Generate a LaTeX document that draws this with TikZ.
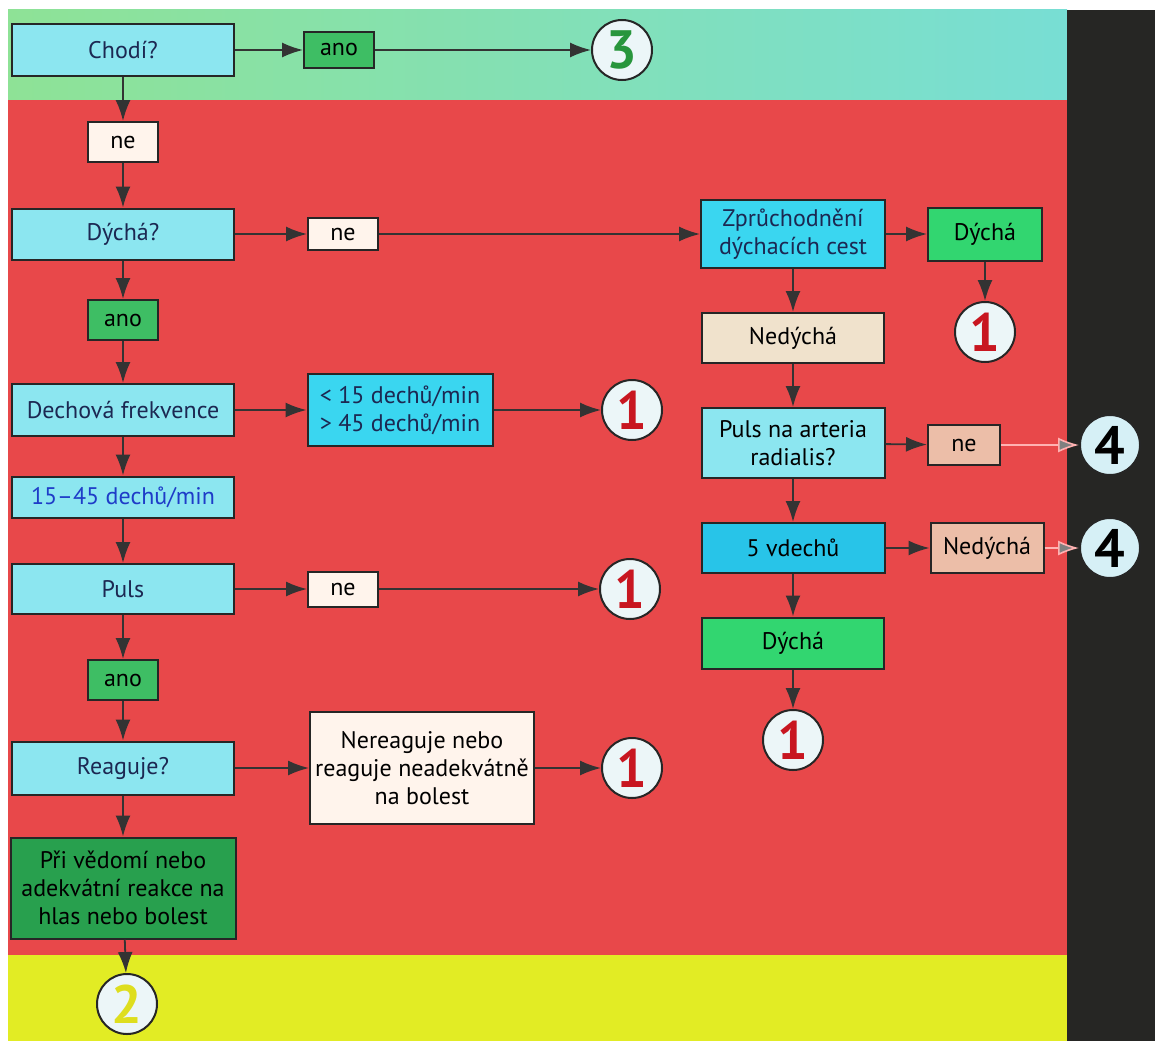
\documentclass[tikz,border=0pt]{standalone}
\usepackage{fontspec}
\setmainfont{PT Sans}
\usetikzlibrary{arrows.meta}

\definecolor{bandred}{RGB}{232,72,74}
\definecolor{bandyellow}{RGB}{226,236,36}
\definecolor{darkside}{RGB}{38,38,36}
\definecolor{qcyan}{RGB}{140,230,240}
\definecolor{scyan}{RGB}{58,214,240}
\definecolor{dcyan}{RGB}{40,196,232}
\definecolor{anogreen}{RGB}{62,190,100}
\definecolor{brightgreen}{RGB}{50,214,112}
\definecolor{darkgreen}{RGB}{40,160,78}
\definecolor{cream}{RGB}{255,244,236}
\definecolor{peach}{RGB}{236,190,168}
\definecolor{beige}{RGB}{240,226,204}
\definecolor{navy}{RGB}{28,40,82}
\definecolor{normblue}{RGB}{30,60,200}
\definecolor{circfill}{RGB}{236,246,248}
\definecolor{fourfill}{RGB}{214,240,246}
\definecolor{digred}{RGB}{200,22,32}
\definecolor{diggreen}{RGB}{40,150,60}
\definecolor{digyellow}{RGB}{222,222,30}

\tikzset{
  box/.style={draw=black!85, line width=2pt, inner sep=2pt, font=\fontsize{24}{28}\selectfont, align=center},
  qbox/.style={box, fill=qcyan, text=navy, minimum width=222pt, minimum height=52pt},
  lbl/.style={box, minimum width=70pt, minimum height=38pt},
  endpt/.style={circle, draw=black!85, line width=2pt, fill=circfill, minimum size=60pt, inner sep=0pt, font=\fontsize{54}{54}\bfseries},
  conn/.style={line width=1.8pt, draw=black!80, -{Latex[length=21pt,width=15pt]}},
  exitconn/.style={line width=1.6pt, draw=red!30!white, -{Latex[length=21pt,width=15pt,fill=gray]}}
}

\begin{document}
\begin{tikzpicture}[x=1pt,y=-1pt]
\useasboundingbox (0,0) rectangle (1155,1041);
% bands
\shade[left color={rgb,255:red,142;green,226;blue,150}, right color={rgb,255:red,120;green,222;blue,212}] (8,10) rectangle (1067,100);
\fill[bandred] (8,100) rectangle (1067,955);
\fill[bandyellow] (8,955) rectangle (1067,1041);
\fill[darkside] (1067,10) rectangle (1155,1041);

% left column
\node[qbox] (chodi) at (123,50) {Chodí?};
\node[lbl, fill=anogreen, minimum height=35pt] (ano1) at (339,50) {ano};
\node[endpt, text=diggreen] (three) at (622,50) {3};
\node[lbl, fill=cream, minimum height=40pt] (ne1) at (123,142) {ne};
\node[qbox, minimum height=51pt] (dycha) at (123,234) {Dýchá?};
\node[lbl, fill=cream, minimum height=32pt] (ne2) at (343,234) {ne};
\node[lbl, fill=anogreen, minimum height=40pt] (ano2) at (123,320) {ano};
\node[qbox] (dech) at (123,410) {Dechová frekvence};
\node[box, fill=scyan, text=navy, minimum width=185pt, minimum height=72pt] (lim) at (400,410) {< 15 dechů/min\\> 45 dechů/min};
\node[endpt, text=digred] (one2) at (632,410) {1};
\node[qbox, minimum height=41pt, text=normblue] (norm) at (123,497) {15–45 dechů/min};
\node[qbox, minimum height=50pt] (puls) at (123,589) {Puls};
\node[lbl, fill=cream, minimum height=35pt] (ne4) at (343,589) {ne};
\node[endpt, text=digred] (one3) at (630,589) {1};
\node[lbl, fill=anogreen, minimum height=40pt] (ano3) at (123,680) {ano};
\node[qbox, minimum height=53pt] (reag) at (123,768) {Reaguje?};
\node[box, fill=cream, minimum width=224pt, minimum height=112pt, inner sep=5pt] (nereag) at (422,768) {Nereaguje nebo\\reaguje neadekvátně\\na bolest};
\node[endpt, text=digred] (one5) at (632,768) {1};
\node[box, fill=darkgreen, minimum width=225pt, minimum height=101pt] (vedomi) at (123,888) {Při vědomí nebo\\adekvátní reakce na\\hlas nebo bolest};
\node[endpt, text=digyellow] (two) at (127,1004) {2};

% right column
\node[box, fill=scyan, text=navy, minimum width=184pt, minimum height=68pt] (zpruch) at (793,234) {Zprůchodnění\\dýchacích cest};
\node[box, fill=brightgreen, minimum width=114pt, minimum height=53pt] (dycha2) at (985,234) {Dýchá};
\node[endpt, text=digred] (one1) at (985,332) {1};
\node[box, fill=beige, minimum width=182pt, minimum height=50pt] (nedy1) at (793,338) {Nedýchá};
\node[box, fill=qcyan, minimum width=183pt, minimum height=70pt] (radial) at (793,443) {Puls na arteria\\radialis?};
\node[lbl, fill=peach, minimum width=72pt, minimum height=40pt] (ne3) at (964,445) {ne};
\node[endpt, fill=fourfill] (four1) at (1110,445) {4};
\node[box, fill=dcyan, minimum width=183pt, minimum height=50pt] (vdech) at (793,548) {5 vdechů};
\node[box, fill=peach, minimum width=113pt, minimum height=50pt] (nedy2) at (987,548) {Nedýchá};
\node[endpt, fill=fourfill] (four2) at (1110,548) {4};
\node[box, fill=brightgreen, minimum width=182pt, minimum height=51pt] (dycha3) at (793,643) {Dýchá};
\node[endpt, text=digred] (one4) at (793,740) {1};

% connectors
\draw[conn] (chodi) -- (ano1);
\draw[conn] (ano1) -- (three);
\draw[conn] (chodi) -- (ne1);
\draw[conn] (ne1) -- (dycha);
\draw[conn] (dycha) -- (ne2);
\draw[conn] (ne2) -- (zpruch);
\draw[conn] (zpruch) -- (dycha2);
\draw[conn] (dycha2) -- (one1);
\draw[conn] (zpruch) -- (nedy1);
\draw[conn] (nedy1) -- (radial);
\draw[conn] (radial) -- (ne3);
\draw[exitconn] (ne3) -- (four1);
\draw[conn] (radial) -- (vdech);
\draw[conn] (vdech) -- (nedy2);
\draw[exitconn] (nedy2) -- (four2);
\draw[conn] (vdech) -- (dycha3);
\draw[conn] (dycha3) -- (one4);
\draw[conn] (dycha) -- (ano2);
\draw[conn] (ano2) -- (dech);
\draw[conn] (dech) -- (lim);
\draw[conn] (lim) -- (one2);
\draw[conn] (dech) -- (norm);
\draw[conn] (norm) -- (puls);
\draw[conn] (puls) -- (ne4);
\draw[conn] (ne4) -- (one3);
\draw[conn] (puls) -- (ano3);
\draw[conn] (ano3) -- (reag);
\draw[conn] (reag) -- (nereag);
\draw[conn] (nereag) -- (one5);
\draw[conn] (reag) -- (vedomi);
\draw[conn] (vedomi) -- (two);
\end{tikzpicture}
\end{document}
